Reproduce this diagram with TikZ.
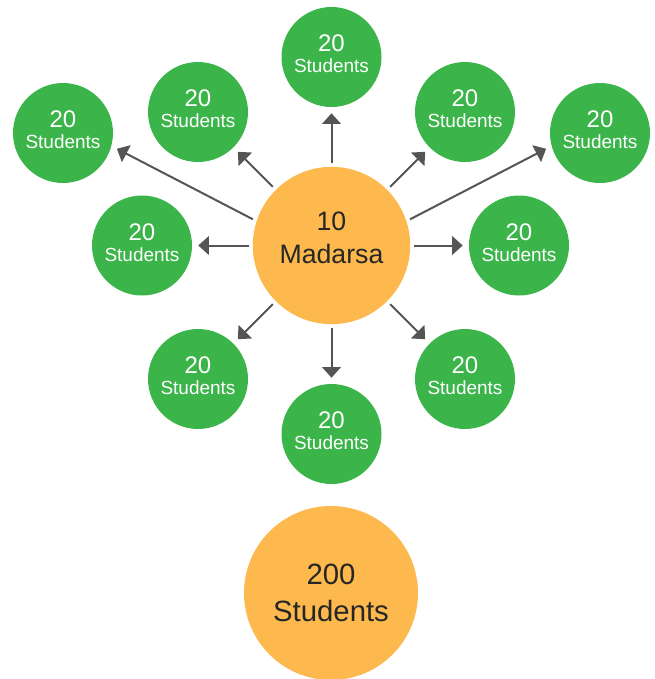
\documentclass[tikz,border=0pt]{standalone}
\usepackage{fontspec}
\setmainfont{Liberation Sans}
\usetikzlibrary{shapes,arrows.meta}

\definecolor{leafgreen}{HTML}{3BB54A}
\definecolor{hubyellow}{HTML}{FDB94D}
\definecolor{arrowgray}{HTML}{555555}

\tikzset{
  student/.style={circle, fill=leafgreen, text=white, minimum size=75pt, inner sep=0pt,
    align=center, text depth=4.5pt, font=\fontsize{14.25}{15.75}\selectfont},
  hub/.style={circle, fill=hubyellow, text=black!85, inner sep=0pt,
    align=center},
  link/.style={draw=arrowgray, line width=1.5pt, -{Triangle[length=8pt,width=14pt]},
    shorten <=3pt, shorten >=4.5pt}
}

\begin{document}
\begin{tikzpicture}[x=0.75pt,y=-0.75pt]
\useasboundingbox (0,0) rectangle (654,679);
% the ten madarsas
\node[hub, minimum size=118pt, text depth=12pt, font=\fontsize{20}{25}\selectfont] (madarsa) at (331.5,245.5) {10\\Madarsa};
% twenty students each
\foreach \name/\x/\y/\from/\to in {top/331.5/57/90/270, upleft/198/112/135/315,
    upright/465/112/45/225, farleft/63/133/162/345, farright/600/133/18/195,
    left/142/245.5/180/0, right/519/245.5/0/180, lowleft/198/379/225/45,
    lowright/465/379/315/135, bottom/331.5/434/270/90} {
    \node[student] (\name) at (\x,\y) {{\fontsize{18}{15.75}\selectfont 20}\\Students};
    \draw[link] (madarsa.\from) -- (\name.\to);
}
% total
\node[hub, minimum size=130.5pt, font=\fontsize{22}{27.5}\selectfont] (total) at (331,593) {200\\Students};
\end{tikzpicture}
\end{document}
